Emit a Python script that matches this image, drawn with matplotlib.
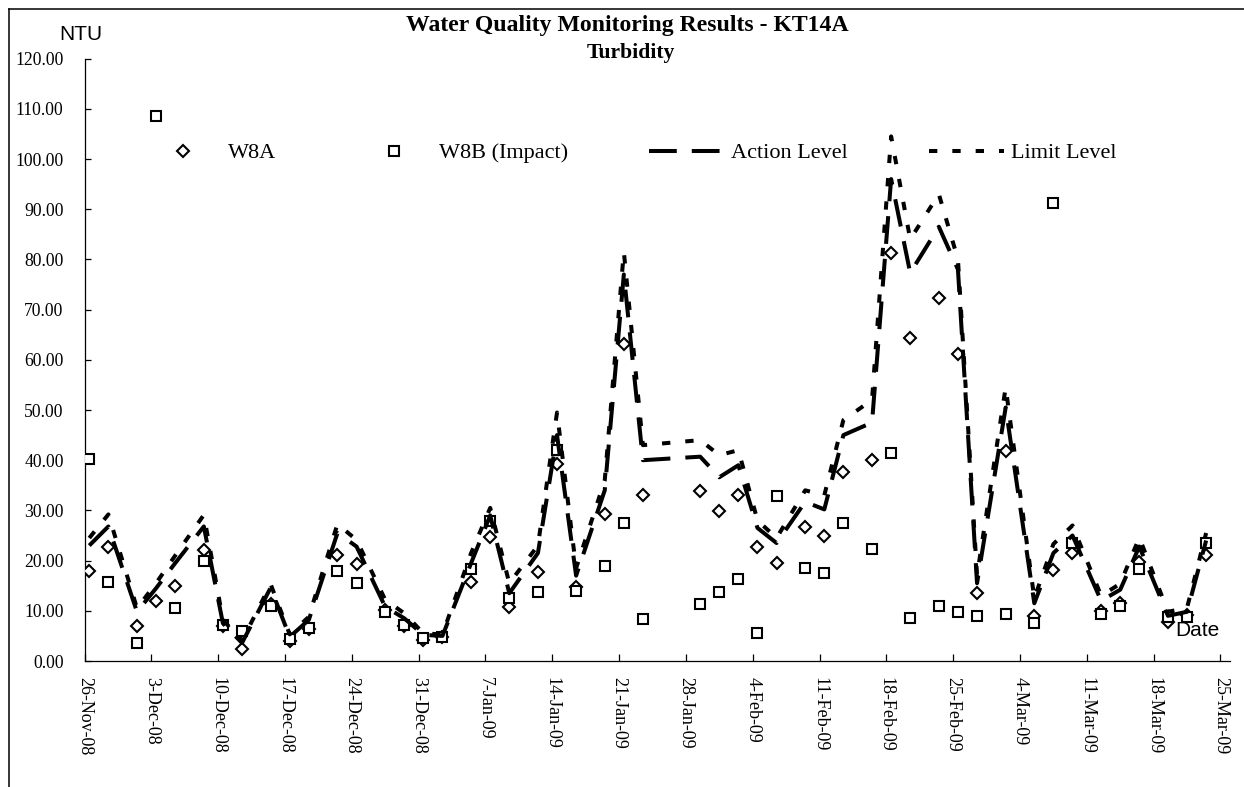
import matplotlib
matplotlib.use("Agg")
import matplotlib.pyplot as plt
from matplotlib.lines import Line2D
import pandas as pd

# ---------------- data ----------------
dates = ["2008-11-26", "2008-11-28", "2008-12-01", "2008-12-03", "2008-12-05",
         "2008-12-08", "2008-12-10", "2008-12-12", "2008-12-15", "2008-12-17",
         "2008-12-19", "2008-12-22", "2008-12-24", "2008-12-27", "2008-12-29",
         "2008-12-31", "2009-01-02", "2009-01-05", "2009-01-07", "2009-01-09",
         "2009-01-12", "2009-01-14", "2009-01-16", "2009-01-19", "2009-01-21",
         "2009-01-23", "2009-01-29", "2009-01-31", "2009-02-02", "2009-02-04",
         "2009-02-06", "2009-02-09", "2009-02-11", "2009-02-13", "2009-02-16",
         "2009-02-18", "2009-02-20", "2009-02-23", "2009-02-25", "2009-02-27",
         "2009-03-02", "2009-03-05", "2009-03-07", "2009-03-09", "2009-03-12",
         "2009-03-14", "2009-03-16", "2009-03-19", "2009-03-21", "2009-03-23"]

w8a = [18.0, 22.8, 7.0, 11.9, 15.0, 22.2, 7.0, 2.3, 11.3, 3.9,
       6.3, 21.2, 19.3, 10.2, 7.0, 4.2, 4.8, 15.8, 24.8, 10.8,
       17.7, 39.2, 14.7, 29.2, 63.2, 33.1, 33.9, 29.9, 33.1, 22.8,
       19.6, 26.6, 25.0, 37.7, 40.0, 81.3, 64.3, 72.3, 61.1, 13.6,
       41.8, 9.0, 18.1, 21.6, 10.0, 11.5, 19.8, 7.8, 9.2, 21.1]

w8b = [40.2, 15.8, 3.6, 108.6, 10.5, 20.0, 7.2, 6.0, 11.0, 4.4,
       6.5, 17.9, 15.6, 9.7, 7.1, 4.65, 4.7, 18.3, 27.9, 12.5,
       13.7, 42.0, 14.0, 19.0, 27.4, 8.3, 11.3, 13.7, 16.3, 5.5,
       32.9, 18.6, 17.5, 27.4, 22.4, 41.4, 8.6, 11.0, 9.8, 9.0,
       9.4, 7.6, 91.2, 23.6, 9.4, 11.0, 18.3, 8.7, 8.7, 23.6]

action = [23.0, 26.8, 9.8, 14.5, 19.5, 26.8, 7.5, 3.6, 14.6, 4.8,
          8.2, 25.5, 22.8, 10.8, 8.5, 5.2, 5.0, 19.5, 29.0, 13.5,
          21.5, 45.0, 17.0, 34.0, 77.0, 40.0, 40.7, 36.6, 39.0, 26.5,
          23.5, 31.7, 30.2, 45.0, 47.5, 96.0, 77.3, 86.5, 78.0, 15.5,
          50.5, 11.5, 21.5, 25.0, 12.0, 14.2, 22.8, 9.0, 9.8, 24.0]

limit = [24.5, 29.2, 10.5, 15.5, 21.0, 29.1, 8.2, 4.0, 15.3, 5.3,
         8.8, 27.3, 24.1, 12.2, 9.5, 5.5, 5.3, 21.5, 30.5, 15.5,
         23.0, 49.5, 18.5, 36.0, 81.5, 43.0, 44.0, 41.0, 42.0, 28.0,
         24.5, 34.0, 33.0, 48.0, 52.0, 104.5, 84.0, 93.0, 80.0, 17.0,
         54.5, 12.5, 23.3, 27.0, 13.0, 15.4, 24.6, 9.8, 10.6, 25.5]

tick_dates = ["2008-11-26", "2008-12-03", "2008-12-10", "2008-12-17", "2008-12-24",
              "2008-12-31", "2009-01-07", "2009-01-14", "2009-01-21", "2009-01-28",
              "2009-02-04", "2009-02-11", "2009-02-18", "2009-02-25", "2009-03-04",
              "2009-03-11", "2009-03-18", "2009-03-25"]
tick_labels = ["26-Nov-08", "3-Dec-08", "10-Dec-08", "17-Dec-08", "24-Dec-08",
               "31-Dec-08", "7-Jan-09", "14-Jan-09", "21-Jan-09", "28-Jan-09",
               "4-Feb-09", "11-Feb-09", "18-Feb-09", "25-Feb-09", "4-Mar-09",
               "11-Mar-09", "18-Mar-09", "25-Mar-09"]
y_ticks = [0, 10, 20, 30, 40, 50, 60, 70, 80, 90, 100, 110, 120]

# ---------------- figure ----------------
plt.rcParams["lines.scale_dashes"] = False
SERIF = ["Liberation Serif", "DejaVu Serif"]
NARROW = ["Liberation Sans Narrow", "Liberation Sans", "DejaVu Sans"]

W, H = 1244, 787
fig = plt.figure(figsize=(W / 100, H / 100), dpi=100)
fig.patch.set_facecolor("white")

left_px, right_px, top_px, bot_px = 84.5, 1230.0, 58.6, 661.0
ax = fig.add_axes([left_px / W, 1 - bot_px / H, (right_px - left_px) / W, (bot_px - top_px) / H])

# Excel places each day's point in the middle of the day
x = pd.to_datetime(dates) + pd.Timedelta(hours=12)

ax.plot(x, w8a, linestyle="none", marker="D", ms=5.8, mew=1.5,
        mec="black", mfc="white", label="W8A", zorder=3)
ax.plot(x, w8b, linestyle="none", marker="s", ms=6.8, mew=1.5,
        mec="black", mfc="white", label="W8B (Impact)", zorder=4)
ax.plot(x, action, color="black", lw=2.9, dashes=(20, 10.8),
        dash_capstyle="butt", label="Action Level", zorder=5)
ax.plot(x, limit, color="black", lw=2.9, dashes=(6, 10.8),
        dash_capstyle="butt", label="Limit Level", zorder=6)

ax.set_xlim(pd.Timestamp("2008-11-26"), pd.Timestamp("2009-03-26"))
ax.set_ylim(0, 120)

ax.set_xticks(pd.to_datetime(tick_dates))
ax.set_xticklabels(tick_labels, rotation=270, ha="center", va="top",
                   fontsize=13, family=SERIF)
ax.set_yticks(y_ticks)
ax.set_yticklabels([f"{v:.2f}" for v in y_ticks], fontsize=12.7, family=SERIF)

ax.tick_params(axis="x", direction="in", length=5, width=0.9, pad=11.5, colors="black")
ax.tick_params(axis="y", direction="in", length=4, width=0.9, pad=15, colors="black")

for s in ["top", "right"]:
    ax.spines[s].set_visible(False)
for s in ["left", "bottom"]:
    ax.spines[s].set_color("black")
    ax.spines[s].set_linewidth(0.9)

# legend
leg = fig.legend(loc="center left", bbox_to_anchor=(145 / W, 1 - 153 / H),
                 bbox_transform=fig.transFigure, ncol=4, frameon=False,
                 prop={"family": SERIF, "size": 16}, handlelength=3.375,
                 handletextpad=0.34, columnspacing=3.63, borderpad=0,
                 borderaxespad=0, numpoints=1)

# titles and axis captions
fig.text(627 / W, 1 - 31 / H, "Water Quality Monitoring Results - KT14A",
         ha="center", va="baseline", fontsize=17.1, fontweight="bold", family=SERIF)
fig.text(631 / W, 1 - 58 / H, "Turbidity",
         ha="center", va="baseline", fontsize=15.6, fontweight="bold", family=SERIF)
fig.text(59 / W, 1 - 40 / H, "NTU", ha="left", va="baseline", fontsize=15, family=NARROW)
fig.text(1175 / W, 1 - 636 / H, "Date", ha="left", va="baseline", fontsize=15, family=NARROW)

# outer frame (top and left edges only visible)
fig.add_artist(Line2D([9 / W, 1.0], [1 - 9.3 / H, 1 - 9.3 / H], color="black", lw=1.1))
fig.add_artist(Line2D([9 / W, 9 / W], [0.0, 1 - 9.3 / H], color="black", lw=1.1))

fig.savefig("out.png", dpi=100, facecolor="white")
